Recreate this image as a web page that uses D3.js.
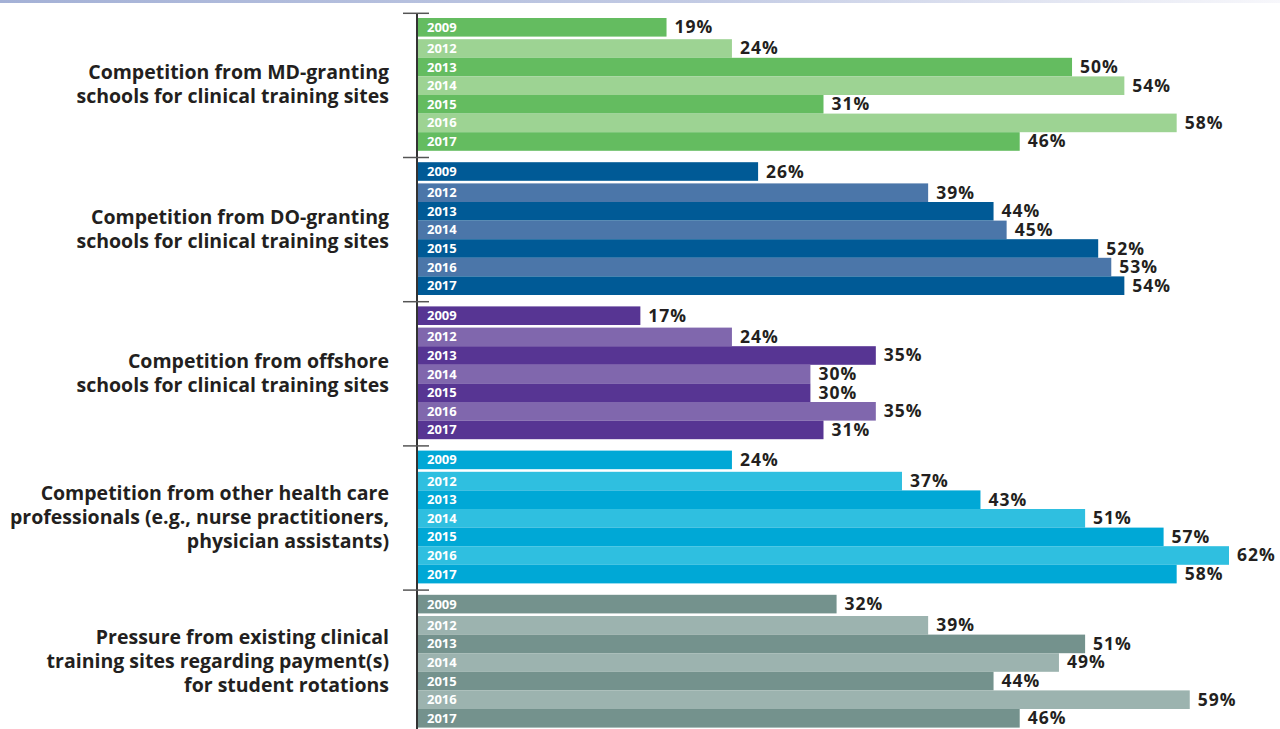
<!DOCTYPE html>
<html>
<head>
<meta charset="utf-8">
<script src="https://cdn.jsdelivr.net/npm/d3@7"></script>
<style>
  body { margin: 0; background: #fff; }
  text { font-family: "Open Sans", "Noto Sans", sans-serif; }
</style>
</head>
<body>
<div id="my_dataviz"></div>
<script>
// chart data
var categories = [
  "Competition from MD-granting|schools for clinical training sites",
  "Competition from DO-granting|schools for clinical training sites",
  "Competition from offshore|schools for clinical training sites",
  "Competition from other health care|professionals (e.g., nurse practitioners,|physician assistants)",
  "Pressure from existing clinical|training sites regarding payment(s)|for student rotations"
];
var years = ["2009", "2012", "2013", "2014", "2015", "2016", "2017"];
var mdValues       = [19, 24, 50, 54, 31, 58, 46];
var doValues       = [26, 39, 44, 45, 52, 53, 54];
var offshoreValues = [17, 24, 35, 30, 30, 35, 31];
var otherValues    = [24, 37, 43, 51, 57, 62, 58];
var paymentValues  = [32, 39, 51, 49, 44, 59, 46];
var seriesValues = [mdValues, doValues, offshoreValues, otherValues, paymentValues];

// colours (dark / light alternate)
var darkColors  = ["#64bc60", "#005a96", "#573593", "#00a8d6", "#74928d"];
var lightColors = ["#9dd393", "#4b76a9", "#8067ad", "#2fbfe0", "#9cb3af"];

var width = 1280, height = 729;

var svg = d3.select("#my_dataviz")
  .append("svg")
    .attr("width", width)
    .attr("height", height);

// thin gradient band at the very top
var grad = svg.append("defs").append("linearGradient")
  .attr("id", "topband")
  .attr("x1", "0%").attr("x2", "100%");
grad.append("stop").attr("offset", "0%").attr("stop-color", "#a4b1d6");
grad.append("stop").attr("offset", "55%").attr("stop-color", "#c3cbe4");
grad.append("stop").attr("offset", "100%").attr("stop-color", "#f7f7fb");
svg.append("rect")
  .attr("x", 0).attr("y", 0)
  .attr("width", width).attr("height", 3)
  .attr("fill", "url(#topband)");

// scales
var x = d3.scaleLinear()
  .domain([0, 62])
  .range([418, 1229]);

var yGroup = d3.scaleBand()
  .domain(categories)
  .range([13.3, 13.3 + 5 * 144.2]);

var yYear = d3.scaleBand()
  .domain(years)
  .range([4.7, 4.7 + 7 * 18.6]);

var firstGap = 2.6;
function barY(i) {
  return yYear(years[i]) + (i > 0 ? firstGap : 0);
}

// axis line + ticks
svg.append("line")
  .attr("x1", 417).attr("x2", 417)
  .attr("y1", yGroup(categories[0]))
  .attr("y2", height)
  .attr("stroke", "#333")
  .attr("stroke-width", 2);

svg.selectAll(".tick")
  .data(categories)
  .enter().append("line")
  .attr("class", "tick")
  .attr("x1", 403).attr("x2", 429)
  .attr("y1", function(d) { return yGroup(d); })
  .attr("y2", function(d) { return yGroup(d); })
  .attr("stroke", "#555")
  .attr("stroke-width", 1.5);

// groups
var groups = svg.selectAll(".grp")
  .data(categories)
  .enter().append("g")
  .attr("class", "grp")
  .attr("transform", function(d) { return "translate(0," + yGroup(d) + ")"; });

groups.each(function(cat, gi) {
  var g = d3.select(this);
  var vals = seriesValues[gi];
  var rows = years.map(function(yr, i) { return {year: yr, value: vals[i], i: i}; });

  g.selectAll(".bar")
    .data(rows)
    .enter().append("rect")
    .attr("class", "bar")
    .attr("x", x(0))
    .attr("y", function(d) { return barY(d.i); })
    .attr("width", function(d) { return x(d.value) - x(0); })
    .attr("height", yYear.bandwidth())
    .attr("fill", function(d) { return d.i % 2 === 0 ? darkColors[gi] : lightColors[gi]; });

  // year labels inside bars
  g.selectAll(".yr")
    .data(rows)
    .enter().append("text")
    .attr("x", x(0) + 9)
    .attr("y", function(d) { return barY(d.i) + yYear.bandwidth() / 2 + 4.5; })
    .text(function(d) { return d.year; })
    .style("font-size", "13px")
    .style("font-weight", "bold")
    .style("fill", "#fff");

  // value labels
  g.selectAll(".val")
    .data(rows)
    .enter().append("text")
    .attr("x", function(d) { return x(d.value) + 8; })
    .attr("y", function(d) { return barY(d.i) + yYear.bandwidth() / 2 + 6; })
    .text(function(d) { return d.value + "%"; })
    .style("font-size", "17.5px")
    .style("letter-spacing", "1px")
    .style("font-weight", "bold")
    .style("fill", "#231f20");

  // category label
  var lines = cat.split("|");
  var center = 71.2;
  var lh = 24;
  g.selectAll(".cat")
    .data(lines)
    .enter().append("text")
    .attr("x", 389)
    .attr("y", function(d, i) { return center + (i - (lines.length - 1) / 2) * lh + 7; })
    .attr("text-anchor", "end")
    .text(function(d) { return d; })
    .style("font-size", "19.5px")
    .style("font-weight", "bold")
    .style("fill", "#231f20");
});
</script>
</body>
</html>
